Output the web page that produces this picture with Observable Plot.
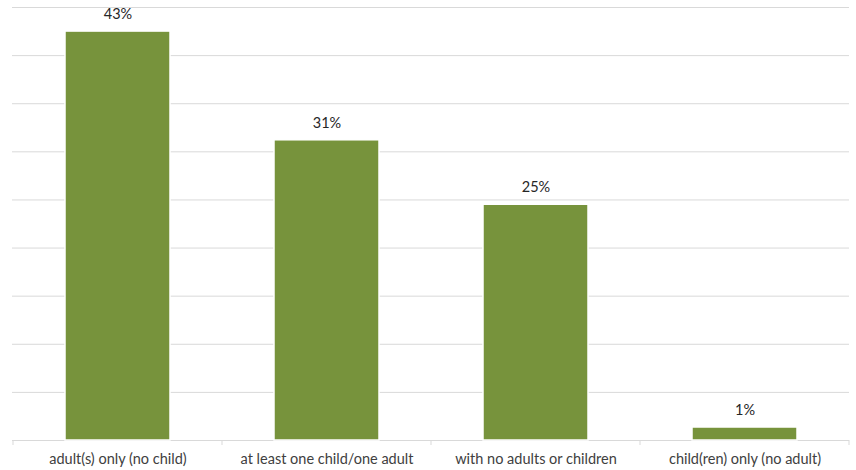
<!DOCTYPE html>
<html>
<head>
<meta charset="utf-8">
<script src="https://cdn.jsdelivr.net/npm/d3@7"></script>
<script src="https://cdn.jsdelivr.net/npm/@observablehq/plot@0.6"></script>
<style>
  html, body { margin: 0; padding: 0; background: #fff; }
  #chart svg { display: block; }
</style>
</head>
<body>
<div id="chart"></div>
<script>
const categories = ["adult(s) only (no child)", "at least one child/one adult", "with no adults or children", "child(ren) only (no adult)"];
const values = [0.425, 0.312, 0.245, 0.0135];
const labels = ["43%", "31%", "25%", "1%"];
const yTicks = [0, 0.05, 0.10, 0.15, 0.20, 0.25, 0.30, 0.35, 0.40, 0.45];

const data = categories.map((c, i) => ({category: c, value: values[i], label: labels[i]}));

const font = "Lato, 'Open Sans', sans-serif";

// category boundary ticks drawn from the band scale
function boundaryTicks(index, scales) {
  const x = scales.x, y = scales.y;
  const bw = typeof x.bandwidth === "function" ? x.bandwidth() : x.bandwidth;
  const step = typeof x.step === "function" ? x.step() : x.step;
  const y0 = y(0);
  const pos = categories.map(c => x(c) - (step - bw) / 2);
  pos.push(x(categories[categories.length - 1]) + bw + (step - bw) / 2);
  const g = d3.create("svg:g");
  for (const p of pos) {
    g.append("line").attr("x1", p).attr("x2", p).attr("y1", y0).attr("y2", y0 + 5)
      .attr("stroke", "#d9d9d9").attr("stroke-width", 1);
  }
  return g.node();
}

const chart = Plot.plot({
  width: 856,
  height: 470,
  marginTop: 7,
  marginBottom: 30,
  marginLeft: 12,
  marginRight: 7,
  style: {fontFamily: font, background: "#fff"},
  x: {domain: categories, paddingInner: 0.5, paddingOuter: 0.25, label: null},
  y: {domain: [0, 0.45], axis: null},
  marks: [
    Plot.ruleY(yTicks, {stroke: "#d9d9d9", strokeWidth: 1}),
    Plot.barY(data, {x: "category", y: "value", fill: "#77933C", stroke: "#fff", strokeWidth: 1.5}),
    Plot.text(data, {x: "category", y: "value", text: "label", dy: -17, fill: "#262626", fontSize: 14.5, fontFamily: font}),
    boundaryTicks,
    Plot.axisX({tickSize: 0, tickPadding: 13, fontSize: 14.5, fill: "#404040", fontFamily: font, label: null})
  ]
});
document.getElementById("chart").appendChild(chart);
</script>
</body>
</html>
